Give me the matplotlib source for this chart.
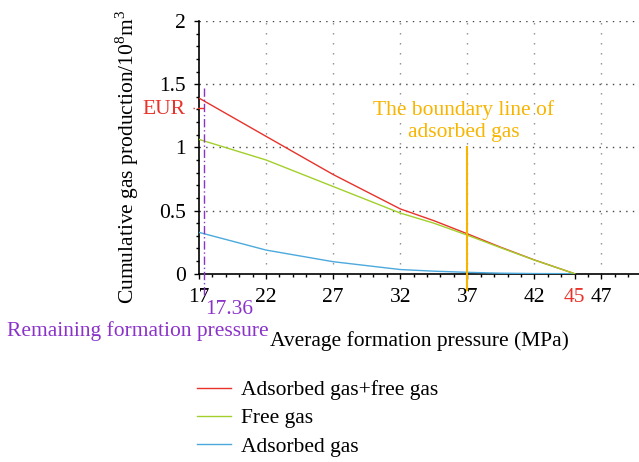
import numpy as np
import matplotlib
matplotlib.use("Agg")
import matplotlib.pyplot as plt

# average formation pressure (MPa) and cumulative production (10^8 m^3)
pressure = [17, 22, 27, 32, 34.5, 37, 39.5, 42, 45]
free_gas = [1.063, 0.90, 0.69, 0.48, 0.40, 0.305, 0.205, 0.108, 0.0]
adsorbed_gas = [0.327, 0.187, 0.095, 0.033, 0.02, 0.011, 0.004, 0.001, 0.0]
total_gas = [f + a for f, a in zip(free_gas, adsorbed_gas)]

x_ticks = [17, 22, 27, 32, 37, 42, 45, 47]
y_ticks = [0, 0.5, 1, 1.5, 2]

remaining_pressure = 17.36
eur = 1.31
boundary_pressure = 37
abandon_pressure = 45

RED = "#e8322a"
GREEN = "#a3cf2a"
BLUE = "#4ba9dd"
PURPLE = "#8b33c9"
GOLD = "#f7b500"

plt.rcParams["font.family"] = ["Liberation Serif", "DejaVu Serif"]
plt.rcParams["mathtext.fontset"] = "custom"
plt.rcParams["mathtext.rm"] = "Liberation Serif"
plt.rcParams["font.size"] = 15.5

fig = plt.figure(figsize=(6.39, 4.62), dpi=100)
ax = fig.add_axes([199 / 639, 1 - 273.7 / 462, 440 / 639, (273.7 - 21) / 462])

ax.plot(pressure, total_gas, color=RED, lw=1.0, label="Adsorbed gas+free gas", zorder=4)
ax.plot(pressure, free_gas, color=GREEN, lw=1.0, label="Free gas", zorder=5)
ax.plot(pressure, adsorbed_gas, color=BLUE, lw=1.0, label="Adsorbed gas", zorder=4)

ax.set_xlim(17, 49.8)
ax.set_ylim(0, 2)

# dotted grid
for yv in y_ticks[1:]:
    ax.axhline(yv, color="#444444", lw=1.0, ls=(0, (1, 3.8)), zorder=1)
for xv in [22, 27, 32, 37, 42, 47]:
    ax.axvline(xv, color="#8a8a8a", lw=1.0, ls=(0, (1, 6.2)), zorder=1)

# remaining pressure and EUR markers
ax.plot([remaining_pressure, remaining_pressure], [1.47, -0.18], color=PURPLE,
        lw=1.0, ls=(0, (6, 2, 1, 2)), clip_on=False, zorder=6)
ax.plot([16.55, remaining_pressure], [eur, eur], color=RED, lw=1.0, ls=(0, (1, 2, 6, 2)),
        clip_on=False, zorder=6)
fig.text(164 / 639, 1 - 110 / 462, "EUR", color=RED, ha="center", va="center")

# boundary line of adsorbed gas
ax.plot([boundary_pressure, boundary_pressure], [1.0, -0.13], color=GOLD, lw=1.5,
        clip_on=False, zorder=7)
fig.text(464 / 639, 1 - 121 / 462, "The boundary line of\nadsorbed gas", color=GOLD,
         ha="center", va="center", linespacing=1.2)

fig.text(229 / 639, 1 - 310 / 462, "17.36", color=PURPLE, ha="center", va="center")
fig.text(138 / 639, 1 - 331 / 462, "Remaining formation pressure", color=PURPLE,
         ha="center", va="center")

ax.set_xticks(x_ticks)
ax.set_yticks(y_ticks)
ax.set_yticklabels(["0", "0.5", "1", "1.5", "2"])
ax.set_xticks(np.arange(17, 50, 1), minor=True)
ax.set_yticks(np.arange(0, 2.01, 0.1), minor=True)
for lbl, val in zip(ax.get_xticklabels(), x_ticks):
    if val == abandon_pressure:
        lbl.set_color(RED)
ax.tick_params(axis="both", which="major", direction="out", length=3.3, width=1.0)
ax.tick_params(axis="both", which="minor", direction="out", length=2.3, width=1.0)
ax.tick_params(axis="x", pad=7)
ax.tick_params(axis="y", pad=6)

ax.spines["top"].set_visible(False)
ax.spines["right"].set_visible(False)
ax.spines["left"].set_linewidth(1.2)
ax.spines["bottom"].set_linewidth(1.2)

ax.set_xlabel("Average formation pressure (MPa)", labelpad=17)
fig.text(127 / 639, 1 - 157 / 462, "Cumulative gas production/10$^{\\mathrm{8}}$m$^{\\mathrm{3}}$",
         rotation=90, ha="center", va="center")

handles, labels = ax.get_legend_handles_labels()
fig.legend(handles, labels, loc="upper left", bbox_to_anchor=(197 / 639, 1 - 380 / 462),
           frameon=False, borderpad=0, borderaxespad=0, handlelength=1.6,
           handletextpad=0.45, labelspacing=0.38)

fig.savefig("out.png", dpi=100)
